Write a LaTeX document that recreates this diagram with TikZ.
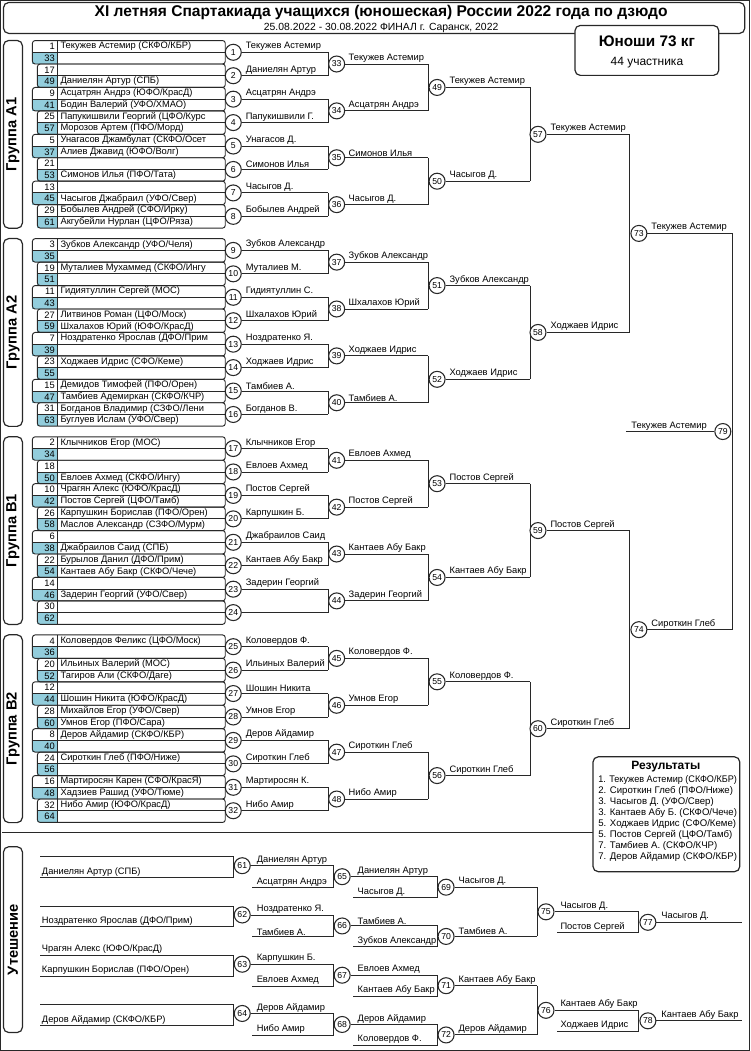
\documentclass[tikz,border=0pt]{standalone}
\usepackage{fontspec}
\usepackage{graphicx}
\setmainfont{Liberation Sans}
\definecolor{seedc}{RGB}{146,205,220}
\definecolor{ln}{RGB}{40,40,40}
\newsavebox\fitbx
\newcommand\fitname[2]{\sbox\fitbx{#2}\ifdim\wd\fitbx>#1\relax\resizebox{#1}{\ht\fitbx}{\usebox\fitbx}\else\usebox\fitbx\fi}
\tikzset{
  every path/.style={draw=ln,line width=0.7pt},
  mc/.style={circle,draw=ln,fill=white,line width=0.8pt,minimum size=12pt,inner sep=0pt,font=\fontsize{6.5}{7}\selectfont},
  seed/.style={anchor=east,inner sep=0.5pt,font=\fontsize{7}{8}\selectfont},
  entry/.style={anchor=west,inner sep=0.5pt,font=\fontsize{7}{8}\selectfont},
  win/.style={anchor=south west,inner sep=0.8pt,font=\fontsize{7}{8}\selectfont},
  grp/.style={rotate=90,font=\bfseries\fontsize{11}{12}\selectfont,inner sep=0pt},
  rbox/.style={draw=ln,rounded corners=4pt,line width=0.9pt},
}
\newcommand\drawgroup[7]{%
  \pgfmathsetmacro\bs{46+198.3*#1}
  \pgfmathsetmacro\lt{\bs-6}\pgfmathsetmacro\lb{\bs+182}\pgfmathsetmacro\lm{\bs+88}
  \draw[rbox] (3,\lt) rectangle (22,\lb);
  \node[grp] (lab#1) at (12.5,\lm) {#2};
  \foreach \j in {0,...,7}{
    \pgfmathsetmacro\yt{\bs+23.46*\j-5.87}
    \pgfmathsetmacro\yb{\yt+23.46}
    \pgfmathsetmacro\ym{\yt+11.73}
    \pgfmathsetmacro\xl{mod(\j,2)==0?32:37}
    \fill[seedc,draw=none] (\xl,\ym) rectangle (57,\yb);
    \draw[rounded corners=2pt] (\xl,\yt) rectangle (225,\yb);
    \draw (\xl,\ym) -- (225,\ym) (57,\yt) -- (57,\yb);
  }
  \foreach \s/\n [count=\k from 0] in {#3}{
    \pgfmathsetmacro\yy{\bs+11.73*\k}
    \node[seed] (s#1-\k) at (55.5,\yy) {\s};
    \node[entry] (e#1-\k) at (59,\yy) {\fitname{121pt}{\n}};
  }
  \foreach \n [count=\j from 0] in {#4}{
    \pgfmathsetmacro\yy{\bs+11.73*(2*\j+0.5)}
    \pgfmathtruncatemacro\num{8*#1+\j+1}
    \node[mc] (m\num) at (233,\yy) {\num};
    \coordinate (w\num) at (328,\yy);
    \draw (m\num.east) -- (w\num);
    \node[win] (n\num) at (244,\yy) {\fitname{61pt}{\n}};
  }
  \foreach \i in {0,...,3}{
    \pgfmathtruncatemacro\na{8*#1+2*\i+1}\pgfmathtruncatemacro\nb{\na+1}
    \draw (w\na) -- (w\nb);
  }
  \foreach \n [count=\j from 0] in {#5}{
    \pgfmathsetmacro\yy{\bs+11.73*(4*\j+1.5)}
    \pgfmathtruncatemacro\num{33+4*#1+\j}
    \node[mc] (m\num) at (336.5,\yy) {\num};
    \coordinate (w\num) at (428,\yy);
    \draw (m\num.east) -- (w\num);
    \node[win] (n\num) at (347,\yy) {\fitname{60pt}{\n}};
  }
  \foreach \i in {0,1}{
    \pgfmathtruncatemacro\na{33+4*#1+2*\i}\pgfmathtruncatemacro\nb{\na+1}
    \draw (w\na) -- (w\nb);
  }
  \foreach \n [count=\j from 0] in {#6}{
    \pgfmathsetmacro\yy{\bs+11.73*(8*\j+3.5)}
    \pgfmathtruncatemacro\num{49+2*#1+\j}
    \node[mc] (m\num) at (437,\yy) {\num};
    \coordinate (w\num) at (530,\yy);
    \draw (m\num.east) -- (w\num);
    \node[win] (n\num) at (448,\yy) {\fitname{61pt}{\n}};
  }
  \pgfmathtruncatemacro\na{49+2*#1}\pgfmathtruncatemacro\nb{\na+1}
  \draw (w\na) -- (w\nb);
  \pgfmathsetmacro\yy{\bs+11.73*7.5}
  \pgfmathtruncatemacro\num{57+#1}
  \node[mc] (m\num) at (538,\yy) {\num};
  \coordinate (w\num) at (630,\yy);
  \draw (m\num.east) -- (w\num);
  \node[win] (n\num) at (549,\yy) {\fitname{61pt}{#7}};
}
\begin{document}
\begin{tikzpicture}[x=0.75pt,y=-0.75pt]
\useasboundingbox (0,0) rectangle (750,1051);
% header
\draw[rbox] (3,2) rectangle (745,33);
\node[inner sep=0pt,font=\bfseries] (title) at (381,12) {\resizebox{430pt}{!}{XI летняя Спартакиада учащихся (юношеская) России 2022 года по дзюдо}};
\node[inner sep=0pt] (sub) at (381,27.5) {\resizebox{176pt}{!}{25.08.2022 - 30.08.2022 ФИНАЛ г. Саранск, 2022}};
\draw[rbox,fill=white] (575,25) rectangle (719,75);
\node[inner sep=0pt,font=\bfseries\fontsize{11.5}{13}\selectfont] (cat) at (647,41) {Юноши 73 кг};
\node[inner sep=0pt,font=\fontsize{9}{10}\selectfont] (cnt) at (647,62) {44 участника};

\drawgroup{0}{Группа A1}{1/{Текужев Астемир (СКФО/КБР)},33/{},17/{},49/{Даниелян Артур (СПБ)},9/{Асцатрян Андрэ (ЮФО/КрасД)},41/{Бодин Валерий (УФО/ХМАО)},25/{Папукишвили Георгий (ЦФО/Курс},57/{Морозов Артем (ПФО/Морд)},5/{Унагасов Джамбулат (СКФО/Осет},37/{Алиев Джавид (ЮФО/Волг)},21/{},53/{Симонов Илья (ПФО/Тата)},13/{},45/{Часыгов Джабраил (УФО/Свер)},29/{Бобылев Андрей (СФО/Ирку)},61/{Акгубейли Нурлан (ЦФО/Ряза)}}{Текужев Астемир,Даниелян Артур,Асцатрян Андрэ,Папукишвили Г.,Унагасов Д.,Симонов Илья,Часыгов Д.,Бобылев Андрей}{Текужев Астемир,Асцатрян Андрэ,Симонов Илья,Часыгов Д.}{Текужев Астемир,Часыгов Д.}{Текужев Астемир}

\drawgroup{1}{Группа A2}{3/{Зубков Александр (УФО/Челя)},35/{},19/{Муталиев Мухаммед (СКФО/Ингу},51/{},11/{Гидиятуллин Сергей (МОС)},43/{},27/{Литвинов Роман (ЦФО/Моск)},59/{Шхалахов Юрий (ЮФО/КрасД)},7/{Ноздратенко Ярослав (ДФО/Прим},39/{},23/{Ходжаев Идрис (СФО/Кеме)},55/{},15/{Демидов Тимофей (ПФО/Орен)},47/{Тамбиев Адемиркан (СКФО/КЧР)},31/{Богданов Владимир (СЗФО/Лени},63/{Буглуев Ислам (УФО/Свер)}}{Зубков Александр,Муталиев М.,Гидиятуллин С.,Шхалахов Юрий,Ноздратенко Я.,Ходжаев Идрис,Тамбиев А.,Богданов В.}{Зубков Александр,Шхалахов Юрий,Ходжаев Идрис,Тамбиев А.}{Зубков Александр,Ходжаев Идрис}{Ходжаев Идрис}

\drawgroup{2}{Группа B1}{2/{Клычников Егор (МОС)},34/{},18/{},50/{Евлоев Ахмед (СКФО/Ингу)},10/{Чрагян Алекс (ЮФО/КрасД)},42/{Постов Сергей (ЦФО/Тамб)},26/{Карпушкин Борислав (ПФО/Орен)},58/{Маслов Александр (СЗФО/Мурм)},6/{},38/{Джабраилов Саид (СПБ)},22/{Бурылов Данил (ДФО/Прим)},54/{Кантаев Абу Бакр (СКФО/Чече)},14/{},46/{Задерин Георгий (УФО/Свер)},30/{},62/{}}{Клычников Егор,Евлоев Ахмед,Постов Сергей,Карпушкин Б.,Джабраилов Саид,Кантаев Абу Бакр,Задерин Георгий,{}}{Евлоев Ахмед,Постов Сергей,Кантаев Абу Бакр,Задерин Георгий}{Постов Сергей,Кантаев Абу Бакр}{Постов Сергей}

\drawgroup{3}{Группа B2}{4/{Коловердов Феликс (ЦФО/Моск)},36/{},20/{Ильиных Валерий (МОС)},52/{Тагиров Али (СКФО/Даге)},12/{},44/{Шошин Никита (ЮФО/КрасД)},28/{Михайлов Егор (УФО/Свер)},60/{Умнов Егор (ПФО/Сара)},8/{Деров Айдамир (СКФО/КБР)},40/{},24/{Сироткин Глеб (ПФО/Ниже)},56/{},16/{Мартиросян Карен (СФО/КрасЯ)},48/{Хадзиев Рашид (УФО/Тюме)},32/{Нибо Амир (ЮФО/КрасД)},64/{}}{Коловердов Ф.,Ильиных Валерий,Шошин Никита,Умнов Егор,Деров Айдамир,Сироткин Глеб,Мартиросян К.,Нибо Амир}{Коловердов Ф.,Умнов Егор,Сироткин Глеб,Нибо Амир}{Коловердов Ф.,Сироткин Глеб}{Сироткин Глеб}

% semifinals and final
\draw (w57) -- (w58) (w59) -- (w60);
\pgfmathsetmacro\ya{46+198.3*0.5+88}
\pgfmathsetmacro\yb{46+198.3*2.5+88}
\pgfmathsetmacro\yf{(\ya+\yb)/2}
\node[mc] (m73) at (639,\ya) {73};
\node[mc] (m74) at (639,\yb) {74};
\coordinate (w73) at (733,\ya);
\coordinate (w74) at (733,\yb);
\draw (m73.east) -- (w73) (m74.east) -- (w74) (w73) -- (w74);
\node[win] (n73) at (650,\ya) {\fitname{61pt}{Текужев Астемир}};
\node[win] (n74) at (650,\yb) {\fitname{61pt}{Сироткин Глеб}};
\node[mc] (m79) at (723,\yf) {79};
\coordinate (f79) at (626,\yf);
\draw (f79) -- (m79.west);
\node[win] (n79) at (630,\yf) {\fitname{61pt}{Текужев Астемир}};

% divider and results
\draw (2,833) -- (593,833);
\draw[rbox,fill=white] (593,757) rectangle (740,872);
\node[inner sep=0pt,font=\bfseries\fontsize{9}{10}\selectfont] (res) at (666,767) {Результаты};
\foreach \t [count=\i from 0] in {1. Текужев Астемир (СКФО/КБР),2. Сироткин Глеб (ПФО/Ниже),3. Часыгов Д. (УФО/Свер),3. Кантаев Абу Б. (СКФО/Чече),5. Ходжаев Идрис (СФО/Кеме),5. Постов Сергей (ЦФО/Тамб),7. Тамбиев А. (СКФО/КЧР),7. Деров Айдамир (СКФО/КБР)}{
  \node[anchor=west,inner sep=0pt,font=\fontsize{7.2}{8}\selectfont] (res\i) at (598,{780+11*\i}) {\fitname{104pt}{\t}};
}

% consolation
\draw[rbox] (3,847) rectangle (22,1033);
\node[grp] (labC) at (12.5,940) {Утешение};
\foreach \L/\bu/\bl/\cu/\cl [count=\i from 0] in {
  {Даниелян Артур (СПБ)}/{Даниелян Артур}/{Асцатрян Андрэ}/{Даниелян Артур}/{Часыгов Д.},
  {Ноздратенко Ярослав (ДФО/Прим)}/{Ноздратенко Я.}/{Тамбиев А.}/{Тамбиев А.}/{Зубков Александр},
  {Карпушкин Борислав (ПФО/Орен)}/{Карпушкин Б.}/{Евлоев Ахмед}/{Евлоев Ахмед}/{Кантаев Абу Бакр},
  {Деров Айдамир (СКФО/КБР)}/{Деров Айдамир}/{Нибо Амир}/{Деров Айдамир}/{Коловердов Ф.}}{
  \pgfmathsetmacro\c{866+49.3*\i}
  \pgfmathsetmacro\ct{\c-9}\pgfmathsetmacro\cb{\c+12}
  \pgfmathtruncatemacro\na{61+\i}\pgfmathtruncatemacro\nb{65+\i}\pgfmathtruncatemacro\nc{69+\i}
  \draw (40,\ct) -- (233,\ct) -- (233,\cb) -- (40,\cb);
  \node[win] (ca\i) at (40,\cb) {\L};
  \node[mc] (m\na) at (242,\c) {\na};
  \coordinate (w\na) at (333,\c);
  \pgfmathsetmacro\lo{\c+22}
  \coordinate (l\na) at (252,\lo);
  \coordinate (v\na) at (333,\lo);
  \draw (m\na.east) -- (w\na) -- (v\na) -- (l\na);
  \node[win] at (255,\c) {\fitname{58pt}{\bu}};
  \node[win] at (255,\lo) {\fitname{58pt}{\bl}};
  \pgfmathsetmacro\cB{\c+11}\pgfmathsetmacro\loB{\cB+21}
  \node[mc] (m\nb) at (342,\cB) {\nb};
  \coordinate (w\nb) at (437,\cB);
  \coordinate (l\nb) at (353,\loB);
  \coordinate (v\nb) at (437,\loB);
  \draw (m\nb.east) -- (w\nb) -- (v\nb) -- (l\nb);
  \node[win] at (356,\cB) {\fitname{59pt}{\cu}};
  \node[win] at (356,\loB) {\fitname{59pt}{\cl}};
  \pgfmathsetmacro\cC{\cB+10.5}
  \node[mc] (m\nc) at (446,\cC) {\nc};
  \coordinate (w\nc) at (537,\cC);
  \draw (m\nc.east) -- (w\nc);
}
\node[win] (chr) at (40,{866+49.3*2-9}) {Чрагян Алекс (ЮФО/КрасД)};
\node[win] at (457,{866+11+10.5}) {\fitname{59pt}{Часыгов Д.}};
\node[win] at (457,{866+49.3+21.5}) {\fitname{59pt}{Тамбиев А.}};
\node[win] at (457,{866+98.6+21.5}) {\fitname{59pt}{Кантаев Абу Бакр}};
\node[win] at (457,{866+147.9+21.5}) {\fitname{59pt}{Деров Айдамир}};
\draw (w69) -- (w70) (w71) -- (w72);
\foreach \k/\up/\lw/\fin in {0/{Часыгов Д.}/{Постов Сергей}/{Часыгов Д.},1/{Кантаев Абу Бакр}/{Ходжаев Идрис}/{Кантаев Абу Бакр}}{
  \pgfmathsetmacro\cD{866+21.5+49.3*(2*\k+0.5)}
  \pgfmathsetmacro\loD{\cD+21}
  \pgfmathsetmacro\cE{\cD+10.5}
  \pgfmathtruncatemacro\nd{75+\k}\pgfmathtruncatemacro\ne{77+\k}
  \node[mc] (m\nd) at (546,\cD) {\nd};
  \coordinate (w\nd) at (639,\cD);
  \coordinate (l\nd) at (557,\loD);
  \coordinate (v\nd) at (639,\loD);
  \draw (m\nd.east) -- (w\nd) -- (v\nd) -- (l\nd);
  \node[win] at (559,\cD) {\fitname{59pt}{\up}};
  \node[win] at (559,\loD) {\fitname{59pt}{\lw}};
  \node[mc] (m\ne) at (648,\cE) {\ne};
  \coordinate (w\ne) at (742,\cE);
  \draw (m\ne.east) -- (w\ne);
  \node[win] at (660,\cE) {\fitname{60pt}{\fin}};
}
\end{tikzpicture}
\end{document}
